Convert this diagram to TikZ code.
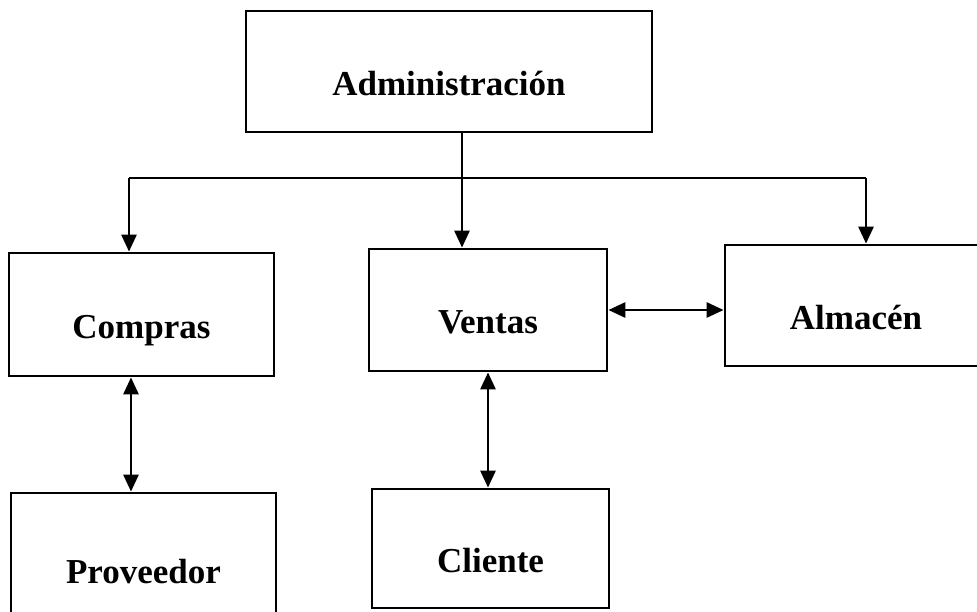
\documentclass[tikz,border=0pt]{standalone}
\usepackage{fontspec}
\setmainfont{Liberation Serif}
\usetikzlibrary{arrows.meta}

\begin{document}
\begin{tikzpicture}[x=1pt,y=-1pt,>={Triangle[length=17pt,width=15pt]},line width=2.8pt,
  box/.style={draw,font=\fontsize{35}{42}\selectfont\bfseries,text height=47pt,text depth=0pt}]
\useasboundingbox (0,0) rectangle (977,611);
\clip (0,0) rectangle (977,611);
\node[box,minimum width=406pt,minimum height=121pt] (adm) at (449,71.5) {Administración};
\node[box,minimum width=265pt,minimum height=123pt] (compras) at (141.5,314.5) {Compras};
\node[box,minimum width=238pt,minimum height=122pt] (ventas) at (488,310) {Ventas};
\node[box,minimum width=262pt,minimum height=121pt] (almacen) at (856,305.5) {Almacén};
\node[box,minimum width=265pt,minimum height=134pt] (proveedor) at (143.5,560) {Proveedor};
\node[box,minimum width=237pt,minimum height=119pt] (cliente) at (490.5,548.5) {Cliente};
\coordinate (bus) at (462,178);
\coordinate (busL) at (129,178);
\coordinate (busR) at (866,178);
\coordinate (cp) at (131,430);
\draw[->] (adm.south -| bus) -- (bus |- ventas.north);
\draw (busL) -- (busR);
\draw[->] (busL) -- (busL |- compras.north);
\draw[->] (busR) -- (busR |- almacen.north);
\draw[<->] (cp |- compras.south) -- (cp |- proveedor.north);
\draw[<->] (ventas.south) -- (ventas.south |- cliente.north);
\draw[<->] (ventas.east) -- (ventas.east -| almacen.west);
\end{tikzpicture}
\end{document}
